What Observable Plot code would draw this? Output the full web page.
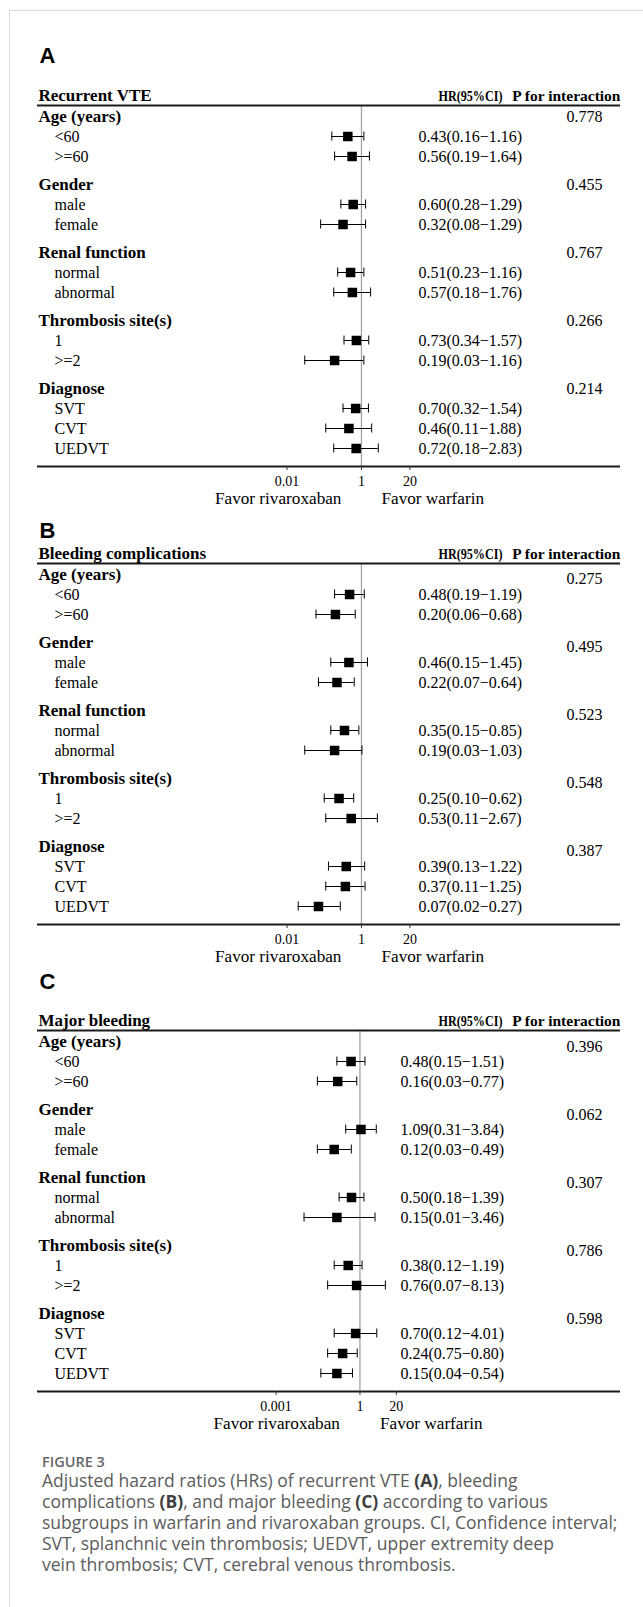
<!DOCTYPE html>
<html>
<head>
<meta charset="utf-8">
<script src="https://cdn.jsdelivr.net/npm/d3@7"></script>
<script src="https://cdn.jsdelivr.net/npm/@observablehq/plot@0.6"></script>
<style>
  html, body { margin: 0; padding: 0; background: #fff; }
  #fig { position: relative; width: 643px; height: 1607px; overflow: hidden; background: #fff; }
  #frame { position: absolute; left: 9px; top: 10px; right: -5px; bottom: -5px;
           border-top: 1px solid #d9d9d9; border-left: 1px solid #d9d9d9; }
  .panel { position: absolute; left: 0; }
  #caption { position: absolute; left: 42px; top: 1453px; font-family: "Open Sans", "Noto Sans", sans-serif; white-space: nowrap; }
  #caption .figno { font-size: 14.5px; line-height: 17px; color: #666; font-weight: 600; }
  #caption .txt { font-size: 17.5px; line-height: 21px; color: #5c5c5c; }
  #caption .txt b { color: #3f3f3f; font-weight: 700; }
</style>
</head>
<body>
<div id="fig">
  <div id="frame"></div>
  <div id="caption">
    <div class="figno">FIGURE 3</div>
    <div class="txt">Adjusted hazard ratios (HRs) of recurrent VTE <b>(A)</b>, bleeding<br>complications <b>(B)</b>, and major bleeding <b>(C)</b> according to various<br>subgroups in warfarin and rivaroxaban groups. CI, Confidence interval;<br>SVT, splanchnic vein thrombosis; UEDVT, upper extremity deep<br>vein thrombosis; CVT, cerebral venous thrombosis.</div>
  </div>
</div>
<script>
// ---------- data ----------
const groups = ["Age (years)", "Gender", "Renal function", "Thrombosis site(s)", "Diagnose"];
const subgroups = [["<60", ">=60"], ["male", "female"], ["normal", "abnormal"], ["1", ">=2"], ["SVT", "CVT", "UEDVT"]];

// Panel A: Recurrent VTE
const hrA = [0.43, 0.56, 0.60, 0.32, 0.51, 0.57, 0.73, 0.19, 0.70, 0.46, 0.72];
const loA = [0.16, 0.19, 0.28, 0.08, 0.23, 0.18, 0.34, 0.03, 0.32, 0.11, 0.18];
const hiA = [1.16, 1.64, 1.29, 1.29, 1.16, 1.76, 1.57, 1.16, 1.54, 1.88, 2.83];
const txtA = ["0.43(0.16\u22121.16)", "0.56(0.19\u22121.64)", "0.60(0.28\u22121.29)", "0.32(0.08\u22121.29)",
  "0.51(0.23\u22121.16)", "0.57(0.18\u22121.76)", "0.73(0.34\u22121.57)", "0.19(0.03\u22121.16)",
  "0.70(0.32\u22121.54)", "0.46(0.11\u22121.88)", "0.72(0.18\u22122.83)"];
const pA = ["0.778", "0.455", "0.767", "0.266", "0.214"];

// Panel B: Bleeding complications
const hrB = [0.48, 0.20, 0.46, 0.22, 0.35, 0.19, 0.25, 0.53, 0.39, 0.37, 0.07];
const loB = [0.19, 0.06, 0.15, 0.07, 0.15, 0.03, 0.10, 0.11, 0.13, 0.11, 0.02];
const hiB = [1.19, 0.68, 1.45, 0.64, 0.85, 1.03, 0.62, 2.67, 1.22, 1.25, 0.27];
const txtB = ["0.48(0.19\u22121.19)", "0.20(0.06\u22120.68)", "0.46(0.15\u22121.45)", "0.22(0.07\u22120.64)",
  "0.35(0.15\u22120.85)", "0.19(0.03\u22121.03)", "0.25(0.10\u22120.62)", "0.53(0.11\u22122.67)",
  "0.39(0.13\u22121.22)", "0.37(0.11\u22121.25)", "0.07(0.02\u22120.27)"];
const pB = ["0.275", "0.495", "0.523", "0.548", "0.387"];

// Panel C: Major bleeding
const hrC = [0.48, 0.16, 1.09, 0.12, 0.50, 0.15, 0.38, 0.76, 0.70, 0.24, 0.15];
const loC = [0.15, 0.03, 0.31, 0.03, 0.18, 0.01, 0.12, 0.07, 0.12, 0.07, 0.04];
const hiC = [1.51, 0.77, 3.84, 0.49, 1.39, 3.46, 1.19, 8.13, 4.01, 0.80, 0.54];
const txtC = ["0.48(0.15\u22121.51)", "0.16(0.03\u22120.77)", "1.09(0.31\u22123.84)", "0.12(0.03\u22120.49)",
  "0.50(0.18\u22121.39)", "0.15(0.01\u22123.46)", "0.38(0.12\u22121.19)", "0.76(0.07\u22128.13)",
  "0.70(0.12\u22124.01)", "0.24(0.75\u22120.80)", "0.15(0.04\u22120.54)"];
const pC = ["0.396", "0.062", "0.307", "0.786", "0.598"];

const ticksAB = [0.01, 1, 20];
const tickLabelsAB = ["0.01", "1", "20"];
const ticksC = [0.001, 1, 20];
const tickLabelsC = ["0.001", "1", "20"];

const favorLeft = "Favor rivaroxaban";
const favorRight = "Favor warfarin";
const hrHeader = "HR(95%CI)";
const pHeader = "P for interaction";

// ---------- layout ----------
const SERIF = "'Liberation Serif', 'Times New Roman', Times, serif";
const SANS = "'Liberation Sans', Arial, Helvetica, sans-serif";
const ROW_STEP = 20, GROUP_GAP = 28;

function buildRows(hr, lo, hi, txt, p) {
  const rows = [];
  let k = 0;
  groups.forEach((g, gi) => {
    rows.push({type: "group", label: g, p: p[gi]});
    subgroups[gi].forEach(s => {
      rows.push({type: "item", label: s, hr: hr[k], lo: lo[k], hi: hi[k], txt: txt[k]});
      k++;
    });
  });
  let pos = 0;
  rows.forEach((r, i) => {
    if (i > 0) pos += (r.type === "group") ? GROUP_GAP : ROW_STEP;
    r.pos = pos;
  });
  return rows;
}

function panel(cfg) {
  const rows = buildRows(cfg.hr, cfg.lo, cfg.hi, cfg.txt, cfg.p);
  const items = rows.filter(r => r.type === "item");
  const heads = rows.filter(r => r.type === "group");
  const last = d3.max(rows, r => r.pos);
  const yTop = -11, yBottom = last + 18;
  const capH = 4.5;

  const svg = Plot.plot({
    width: 643,
    height: 520,
    marginTop: 105,
    marginBottom: 54,
    marginLeft: 37,
    marginRight: 23,
    style: {fontFamily: SERIF, background: "transparent", overflow: "visible", color: "#000"},
    x: {type: "log", domain: cfg.domain, range: cfg.range, axis: null},
    y: {domain: [yTop, yBottom], range: [105, 466], axis: null},
    marks: [
      // reference line at HR = 1
      Plot.ruleX([1], {stroke: "#a3a3a3", strokeWidth: 1.3}),
      // header and bottom rules
      Plot.ruleY([yTop, yBottom], {stroke: "#1a1a1a", strokeWidth: 2}),
      // confidence intervals
      Plot.ruleY(items, {y: "pos", x1: "lo", x2: "hi", stroke: "#000", strokeWidth: 1}),
      Plot.ruleX(items, {x: "lo", y1: d => d.pos - capH, y2: d => d.pos + capH, stroke: "#000", strokeWidth: 1}),
      Plot.ruleX(items, {x: "hi", y1: d => d.pos - capH, y2: d => d.pos + capH, stroke: "#000", strokeWidth: 1}),
      Plot.dot(items, {x: "hr", y: "pos", symbol: "square", r: 5.36, fill: "#000", stroke: null}),
      // x ticks and tick labels
      Plot.ruleX(cfg.ticks, {x: d => d, y1: yBottom, y2: yBottom, insetBottom: -4, stroke: "#333", strokeWidth: 1}),
      Plot.text(cfg.ticks, {x: d => d, text: (d, i) => cfg.tickLabels[i], frameAnchor: "bottom", dy: 19,
        lineAnchor: "bottom", textAnchor: "middle", fontSize: 14}),
      // panel letter
      Plot.text([cfg.letter], {frameAnchor: "top-left", dx: 2, dy: cfg.letterDy, lineAnchor: "bottom",
        textAnchor: "start", fontFamily: SANS, fontWeight: "bold", fontSize: 22}),
      // header row
      Plot.text([cfg.title], {frameAnchor: "top-left", dx: 1, dy: -5, lineAnchor: "bottom",
        textAnchor: "start", fontWeight: "bold", fontSize: 17}),
      Plot.text([hrHeader], {frameAnchor: "top-right", dx: -118, dy: -5, lineAnchor: "bottom",
        textAnchor: "end", fontWeight: "bold", fontSize: 15}),
      Plot.text([pHeader], {frameAnchor: "top-right", dx: 0, dy: -5, lineAnchor: "bottom",
        textAnchor: "end", fontWeight: "bold", fontSize: 15.5}),
      // labels
      Plot.text(heads, {y: "pos", text: "label", frameAnchor: "left", dx: 1, textAnchor: "start",
        fontWeight: "bold", fontSize: 17}),
      Plot.text(items, {y: "pos", text: "label", frameAnchor: "left", dx: 17, textAnchor: "start", fontSize: 16}),
      Plot.text(items, {y: "pos", text: "txt", frameAnchor: "left", dx: cfg.hrDx, textAnchor: "start", fontSize: 16}),
      Plot.text(heads, {y: "pos", text: "p", frameAnchor: "left", dx: 529, dy: cfg.pDy, textAnchor: "start", fontSize: 16}),
      // favour labels
      Plot.text([favorLeft], {x: () => 1, frameAnchor: "bottom", dy: 37, dx: -20, lineAnchor: "bottom",
        textAnchor: "end", fontSize: 17.2}),
      Plot.text([favorRight], {x: () => 1, frameAnchor: "bottom", dy: 37, dx: 20, lineAnchor: "bottom",
        textAnchor: "start", fontSize: 17.2})
    ]
  });
  // the HR column header is set in a narrower bold face in the reference
  svg.querySelectorAll("text").forEach(t => {
    if (t.textContent === hrHeader) {
      t.setAttribute("textLength", "64");
      t.setAttribute("lengthAdjust", "spacingAndGlyphs");
    }
  });
  return svg;
}

const configs = [
  {top: 0, letter: "A", letterDy: -42.5, title: "Recurrent VTE", hr: hrA, lo: loA, hi: hiA, txt: txtA, p: pA,
   domain: [0.01, 20], range: [286.5, 409.4], ticks: ticksAB, tickLabels: tickLabelsAB, hrDx: 381, pDy: 0},
  {top: 458, letter: "B", letterDy: -26, title: "Bleeding complications", hr: hrB, lo: loB, hi: hiB, txt: txtB, p: pB,
   domain: [0.01, 20], range: [286.5, 409.4], ticks: ticksAB, tickLabels: tickLabelsAB, hrDx: 381, pDy: 4},
  {top: 925, letter: "C", letterDy: -42, title: "Major bleeding", hr: hrC, lo: loC, hi: hiC, txt: txtC, p: pC,
   domain: [0.001, 20], range: [275.6, 395.8], ticks: ticksC, tickLabels: tickLabelsC, hrDx: 363, pDy: 5}
];

const fig = document.getElementById("fig");
configs.forEach(cfg => {
  const svg = panel(cfg);
  const wrap = document.createElement("div");
  wrap.className = "panel";
  wrap.style.top = cfg.top + "px";
  wrap.appendChild(svg);
  fig.appendChild(wrap);
});
</script>
</body>
</html>
